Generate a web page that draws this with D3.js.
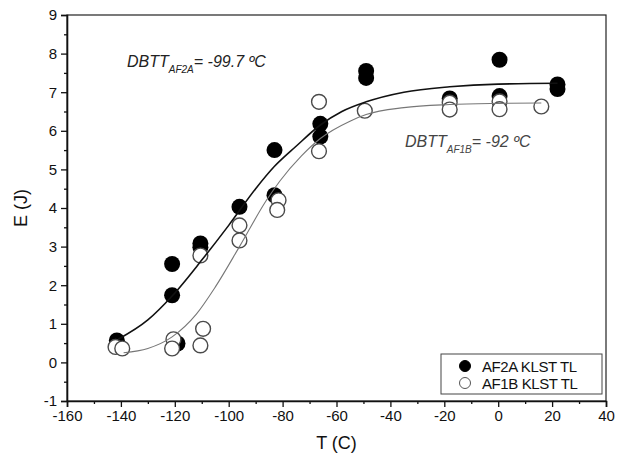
<!DOCTYPE html>
<html>
<head>
<meta charset="utf-8">
<script src="https://cdn.jsdelivr.net/npm/d3@7"></script>
<style>
  body { margin: 0; background: #fff; }
  svg text { font-family: "Liberation Sans", Arial, sans-serif; }
</style>
</head>
<body>
<div id="chart"></div>
<script>
// AF2A KLST TL (filled markers)
var af2aT = [-141.5, -121, -121, -119, -110.5, -110.5, -96, -83, -83, -66, -66, -49, -49, -18, 0.5, 0.5, 22, 22];
var af2aE = [0.57, 2.55, 1.74, 0.49, 3.08, 2.98, 4.03, 5.5, 4.33, 6.18, 5.85, 7.55, 7.37, 6.84, 7.84, 6.9, 7.2, 7.08];

// AF1B KLST TL (open markers)
var af1bT = [-142, -139.5, -120.5, -121, -109.5, -110.5, -110.5, -96, -96, -81.5, -82, -66.5, -66.5, -49.5, -18, -18, 0.5, 0.5, 16];
var af1bE = [0.40, 0.36, 0.60, 0.36, 0.87, 0.44, 2.77, 3.55, 3.16, 4.2, 3.95, 5.47, 6.75, 6.52, 6.73, 6.55, 6.76, 6.56, 6.63];

// fitted curves
var fitAT = [-141, -130, -121, -110, -100, -90, -83, -75, -66, -58, -49, -35, -18, 0, 22];
var fitAE = [0.6, 1.1, 1.72, 2.65, 3.55, 4.5, 5.08, 5.6, 6.15, 6.5, 6.75, 7.0, 7.14, 7.21, 7.23];
var fitBT = [-139, -130, -121, -112, -105, -96, -86, -81, -73, -66, -55, -49, -35, -18, 0, 16];
var fitBE = [0.25, 0.36, 0.66, 1.25, 1.95, 3.0, 4.2, 4.7, 5.35, 5.8, 6.25, 6.42, 6.6, 6.68, 6.71, 6.72];

var xTicks = [-160, -140, -120, -100, -80, -60, -40, -20, 0, 20, 40];
var yTicks = [-1, 0, 1, 2, 3, 4, 5, 6, 7, 8, 9];
var legendLabels = ["AF2A KLST TL", "AF1B KLST TL"];

var W = 617, H = 461;
var m = { left: 67, right: 11, top: 15, bottom: 60 };

var svg = d3.select("#chart").append("svg")
  .attr("width", W)
  .attr("height", H);

var x = d3.scaleLinear().domain([-160, 40]).range([m.left, W - m.right]);
var y = d3.scaleLinear().domain([-1, 9]).range([H - m.bottom, m.top]);

// frame
svg.append("rect")
  .attr("x", x(-160)).attr("y", y(9))
  .attr("width", x(40) - x(-160)).attr("height", y(-1) - y(9))
  .attr("fill", "none").attr("stroke", "#222").attr("stroke-width", 1.2);

// axes with minor ticks
var fmt = d => String(d);
svg.append("g")
  .attr("transform", "translate(0," + y(-1) + ")")
  .call(d3.axisBottom(x).tickValues(xTicks).tickFormat(fmt).tickSize(6).tickPadding(3));
svg.append("g")
  .attr("transform", "translate(0," + y(-1) + ")")
  .call(d3.axisBottom(x).tickValues(d3.range(-150, 40, 20)).tickFormat("").tickSize(3))
  .select(".domain").remove();
svg.append("g")
  .attr("transform", "translate(" + x(-160) + ",0)")
  .call(d3.axisLeft(y).tickValues(yTicks).tickFormat(fmt).tickSize(6).tickPadding(4));
svg.append("g")
  .attr("transform", "translate(" + x(-160) + ",0)")
  .call(d3.axisLeft(y).tickValues(d3.range(-0.5, 9, 1)).tickFormat("").tickSize(3))
  .select(".domain").remove();

svg.selectAll(".domain").attr("stroke", "#111").attr("stroke-width", 1.6);
svg.selectAll(".tick line").attr("stroke", "#111").attr("stroke-width", 1.3);
svg.selectAll(".tick text").attr("font-size", 15).attr("fill", "#111");

// axis titles
svg.append("text")
  .attr("x", (x(-160) + x(40)) / 2).attr("y", 449)
  .attr("text-anchor", "middle").attr("font-size", 18).attr("fill", "#111")
  .text("T (C)");
svg.append("text")
  .attr("transform", "translate(27," + (y(4)) + ") rotate(-90)")
  .attr("text-anchor", "middle").attr("font-size", 18).attr("fill", "#111")
  .text("E (J)");

// markers
var r = 8;
svg.append("g").selectAll("circle")
  .data(af2aT.map((t, i) => [t, af2aE[i]]))
  .enter().append("circle")
  .attr("cx", d => x(d[0])).attr("cy", d => y(d[1]))
  .attr("r", r).attr("fill", "#000");

svg.append("g").selectAll("circle")
  .data(af1bT.map((t, i) => [t, af1bE[i]]))
  .enter().append("circle")
  .attr("cx", d => x(d[0])).attr("cy", d => y(d[1]))
  .attr("r", r - 0.6).attr("fill", "#fff")
  .attr("stroke", "#4a4a4a").attr("stroke-width", 1.4);

// fit curves
var line = d3.line().x(d => x(d[0])).y(d => y(d[1])).curve(d3.curveMonotoneX);
svg.append("path")
  .datum(fitAT.map((t, i) => [t, fitAE[i]]))
  .attr("d", line).attr("fill", "none")
  .attr("stroke", "#111").attr("stroke-width", 1.6);
svg.append("path")
  .datum(fitBT.map((t, i) => [t, fitBE[i]]))
  .attr("d", line).attr("fill", "none")
  .attr("stroke", "#777").attr("stroke-width", 1.1);

// DBTT annotations
var a1 = svg.append("text").attr("x", 127).attr("y", 67)
  .attr("font-size", 16).attr("font-style", "italic").attr("fill", "#222");
a1.append("tspan").text("DBTT");
a1.append("tspan").attr("font-size", 10).attr("dy", 6).text("AF2A");
a1.append("tspan").attr("dy", -6).text("= -99.7 ºC");

var a2 = svg.append("text").attr("x", 405).attr("y", 147)
  .attr("font-size", 16).attr("font-style", "italic").attr("fill", "#444");
a2.append("tspan").text("DBTT");
a2.append("tspan").attr("font-size", 10).attr("dy", 6).text("AF1B");
a2.append("tspan").attr("dy", -6).text("= -92 ºC");

// legend
var lg = svg.append("g");
lg.append("rect")
  .attr("x", 441).attr("y", 354).attr("width", 161).attr("height", 40)
  .attr("fill", "#fff").attr("stroke", "#444").attr("stroke-width", 1);
legendLabels.forEach((lab, i) => {
  var cy = 366 + i * 17;
  lg.append("circle").attr("cx", 465).attr("cy", cy).attr("r", 5.5)
    .attr("fill", i === 0 ? "#000" : "#fff")
    .attr("stroke", i === 0 ? "#000" : "#555").attr("stroke-width", 1);
  lg.append("text").attr("x", 482).attr("y", cy + 5.5)
    .attr("font-size", 15).attr("letter-spacing", -0.4).attr("fill", "#111")
    .text(lab);
});
</script>
</body>
</html>
